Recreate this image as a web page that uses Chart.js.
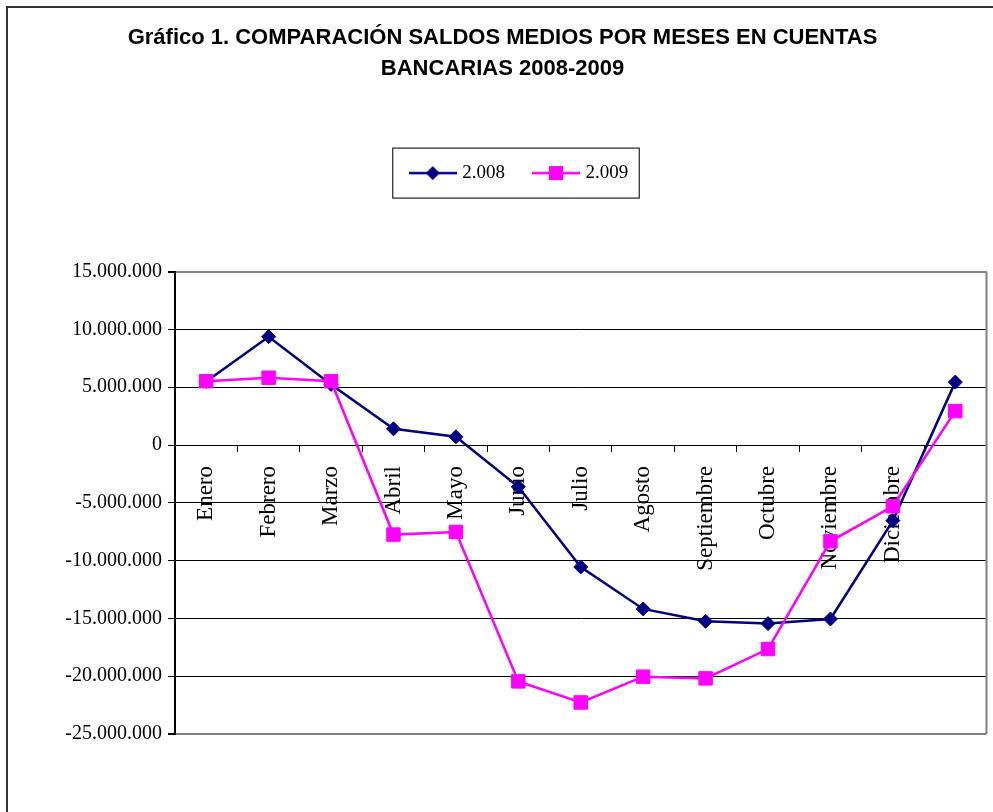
<!DOCTYPE html>
<html>
<head>
<meta charset="utf-8">
<script src="https://cdn.jsdelivr.net/npm/chart.js@4.4.1/dist/chart.umd.min.js"></script>
<style>
html, body { margin: 0; padding: 0; background: #fff; overflow: hidden; }
#wrap { position: relative; width: 993px; height: 812px; overflow: hidden; }
#frame { position: absolute; left: 6px; top: 6px; width: 1100px; height: 900px; border-left: 2px solid #333; border-top: 2px solid #333; pointer-events: none; }
canvas { position: absolute; left: 0; top: 0; }
</style>
</head>
<body>
<div id="wrap">
  <canvas id="saldosChart" width="997" height="812" style="width:997px;height:812px"></canvas>
  <div id="frame"></div>
</div>
<script>
// meses (la última categoría no lleva etiqueta en el original)
var meses = ['Enero', 'Febrero', 'Marzo', 'Abril', 'Mayo', 'Junio', 'Julio', 'Agosto', 'Septiembre', 'Octubre', 'Noviembre', 'Diciembre', ''];
var saldos2008 = [5500000, 9370000, 5240000, 1400000, 710000, -3620000, -10550000, -14180000, -15250000, -15450000, -15050000, -6540000, 5440000];
var saldos2009 = [5520000, 5820000, 5520000, -7750000, -7520000, -20450000, -22270000, -20040000, -20190000, -17650000, -8330000, -5300000, 2930000];
var ejeMin = -25000000;
var ejeMax = 15000000;
var ejePaso = 5000000;

var serif = "'Liberation Serif', 'Times New Roman', serif";

function legendMarker(color, style) {
    var c = document.createElement('canvas');
    c.width = 48;
    c.height = 16;
    var g = c.getContext('2d');
    g.strokeStyle = color;
    g.lineWidth = 2.5;
    g.beginPath();
    g.moveTo(0, 8);
    g.lineTo(48, 8);
    g.stroke();
    g.fillStyle = color;
    if (style === 'diamond') {
        g.beginPath();
        g.moveTo(24, 1);
        g.lineTo(31, 8);
        g.lineTo(24, 15);
        g.lineTo(17, 8);
        g.closePath();
        g.fill();
    } else {
        g.fillRect(17, 1, 14, 14);
    }
    return c;
}
var markers = [legendMarker('#000080', 'diamond'), legendMarker('#FF00FF', 'square')];

var decoPlugin = {
    id: 'deco',
    beforeUpdate: function (chart) {
        var lg = chart.legend;
        if (lg && !lg._patched) {
            var fit = lg.fit;
            lg.fit = function () {
                fit.call(this);
                this.height += 79;
            };
            lg._patched = true;
        }
    },
    afterLayout: function (chart) {
        if (chart.legend) { chart.legend.left += 24; chart.legend.right += 24; }
        if (chart.titleBlock) { chart.titleBlock.left += 6; chart.titleBlock.right += 6; }
    },
    afterDraw: function (chart) {
        var ctx = chart.ctx;
        var a = chart.chartArea;
        ctx.save();
        // borde derecho del área de trazado
        ctx.strokeStyle = '#808080';
        ctx.lineWidth = 2;
        ctx.beginPath();
        ctx.moveTo(a.right, a.top);
        ctx.lineTo(a.right, a.bottom);
        ctx.stroke();
        // marco de la leyenda
        var hb = chart.legend.legendHitBoxes;
        if (hb && hb.length) {
            var last = hb[hb.length - 1];
            var x0 = hb[0].left - 20, x1 = last.left + last.width + 11;
            var cy = hb[0].top + hb[0].height / 2;
            ctx.strokeStyle = '#222';
            ctx.lineWidth = 1.2;
            ctx.strokeRect(x0, cy - 25, x1 - x0, 50);
        }
        ctx.restore();
    }
};

var chart = new Chart(document.getElementById('saldosChart'), {
    type: 'line',
    data: {
        labels: meses,
        datasets: [{
            label: '2.008',
            data: saldos2008,
            borderColor: '#000080',
            backgroundColor: '#000080',
            borderWidth: 2.5,
            pointStyle: 'rectRot',
            pointRadius: 7,
            pointHoverRadius: 7,
            pointBorderWidth: 1,
            tension: 0,
            order: 1
        }, {
            label: '2.009',
            data: saldos2009,
            borderColor: '#FF00FF',
            backgroundColor: '#FF00FF',
            borderWidth: 2.5,
            pointStyle: 'rect',
            pointRadius: 9.5,
            pointHoverRadius: 9.5,
            pointBorderWidth: 1,
            tension: 0,
            order: 0
        }]
    },
    options: {
        responsive: false,
        animation: false,
        layout: { padding: { left: 0, right: 4, top: 0, bottom: 78 } },
        plugins: {
            title: {
                display: true,
                text: ['Gráfico 1. COMPARACIÓN SALDOS MEDIOS POR MESES EN CUENTAS', 'BANCARIAS 2008-2009'],
                color: '#000',
                font: { family: "'Liberation Sans', Arial, sans-serif", size: 22, weight: 'bold', lineHeight: 1.4 },
                padding: { top: 23, bottom: 48 }
            },
            legend: {
                display: true,
                position: 'top',
                labels: {
                    usePointStyle: true,
                    pointStyleWidth: 40,
                    padding: 31,
                    color: '#000',
                    font: { family: serif, size: 19 },
                    generateLabels: function (chart) {
                        return chart.data.datasets.map(function (ds, i) {
                            return {
                                text: ds.label,
                                pointStyle: markers[i],
                                fillStyle: ds.borderColor,
                                strokeStyle: ds.borderColor,
                                lineWidth: 0,
                                hidden: false,
                                datasetIndex: i,
                                fontColor: '#000'
                            };
                        });
                    }
                }
            },
            tooltip: { enabled: false }
        },
        scales: {
            x: {
                type: 'category',
                offset: true,
                position: { y: 0 },
                afterFit: function (scale) { scale.paddingLeft = 0; scale.paddingRight = 0; },
                grid: {
                    offset: true,
                    drawOnChartArea: false,
                    drawTicks: true,
                    tickLength: 6,
                    color: '#000'
                },
                border: { display: true, color: '#000', width: 1 },
                ticks: {
                    autoSkip: false,
                    minRotation: 90,
                    maxRotation: 90,
                    padding: 15,
                    color: '#000',
                    font: { family: serif, size: 23 }
                }
            },
            y: {
                min: ejeMin,
                max: ejeMax,
                afterFit: function (scale) { scale.width = 175; },
                grid: {
                    color: function (c) {
                        return (c.tick && (c.tick.value === ejeMax || c.tick.value === ejeMin)) ? '#808080' : '#000';
                    },
                    lineWidth: function (c) {
                        return (c.tick && (c.tick.value === ejeMax || c.tick.value === ejeMin)) ? 2 : 1;
                    },
                    tickColor: '#000',
                    tickLength: 7
                },
                border: { display: true, color: '#000', width: 2 },
                ticks: {
                    stepSize: ejePaso,
                    padding: 6,
                    color: '#000',
                    font: { family: serif, size: 20 },
                    callback: function (v) { return Number(v).toLocaleString('de-DE'); }
                }
            }
        }
    },
    plugins: [decoPlugin]
});
</script>
</body>
</html>
